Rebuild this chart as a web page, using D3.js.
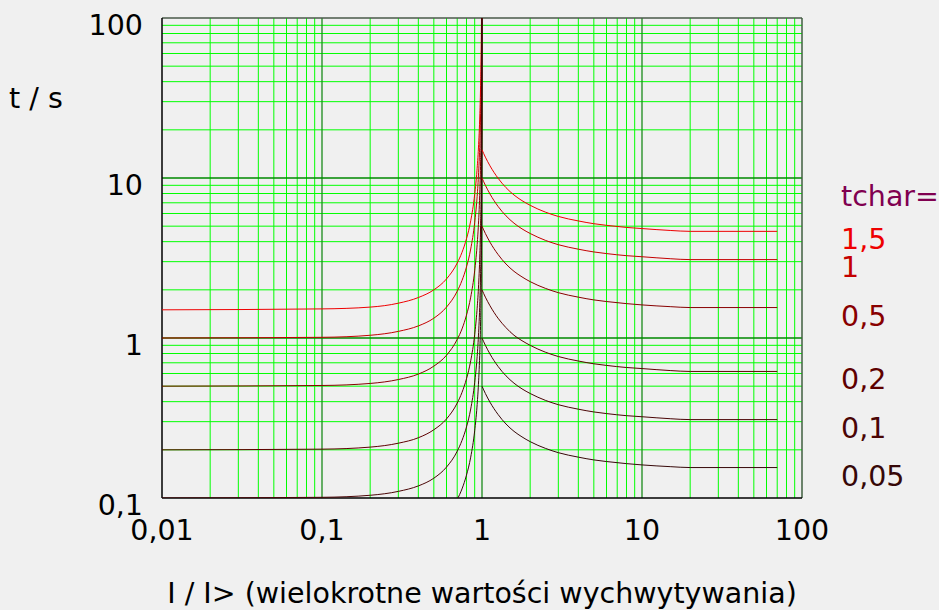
<!DOCTYPE html>
<html>
<head>
<meta charset="utf-8">
<script src="https://cdn.jsdelivr.net/npm/d3@7"></script>
<style>
    body { margin: 0; background: #f0f0f0; }
    text { font-family: "DejaVu Sans", sans-serif; }
</style>
</head>
<body>
<svg id="chart"></svg>
<script>
var width = 939,
    height = 610

var margin = {left: 162, top: 18, right: 137, bottom: 112}
var fontSize = 28.5

// tick labels
var xTicks = [0.01, 0.1, 1, 10, 100]
var xTickLabels = ["0,01", "0,1", "1", "10", "100"]
var yTicks = [0.1, 1, 10, 100]
var yTickLabels = ["0,1", "1", "10", "100"]

// multiples of pickup current
var currentLeft = [0.01, 0.1, 0.2, 0.3, 0.4, 0.5, 0.6, 0.7, 0.75, 0.8, 0.85, 0.9, 0.93, 0.95, 0.97, 0.98, 0.99, 0.995, 0.998, 0.9995, 0.9999]
var currentRight = [1, 1.05, 1.122, 1.259, 1.413, 1.585, 1.778, 2, 2.5, 3, 4, 5, 6, 8, 10, 15, 20, 70]

var tchar = ["1,5", "1", "0,5", "0,2", "0,1", "0,05"]
var colors = ["#ee0000", "#c40000", "#880000", "#5e0000", "#4a0505", "#360808"]

// times (s) below pickup
var left15 = [1.5, 1.52, 1.56, 1.65, 1.79, 2.0, 2.34, 2.94, 3.43, 4.17, 5.4, 7.89, 11.1, 15.4, 25.4, 37.9, 75.4, 150, 375, 1500, 7500]
var left1 = [1.0, 1.01, 1.04, 1.10, 1.19, 1.33, 1.56, 1.96, 2.29, 2.78, 3.60, 5.26, 7.40, 10.3, 16.9, 25.3, 50.3, 100, 250, 1000, 5000]
var left05 = [0.5, 0.505, 0.52, 0.55, 0.595, 0.667, 0.78, 0.98, 1.14, 1.39, 1.80, 2.63, 3.70, 5.13, 8.45, 12.6, 25.1, 50, 125, 500, 2500]
var left02 = [0.2, 0.202, 0.208, 0.22, 0.238, 0.267, 0.312, 0.392, 0.457, 0.556, 0.72, 1.05, 1.48, 2.05, 3.38, 5.05, 10.05, 20, 50, 200, 1000]
var left01 = [0.1, 0.101, 0.104, 0.11, 0.119, 0.133, 0.156, 0.196, 0.229, 0.278, 0.36, 0.526, 0.74, 1.03, 1.69, 2.53, 5.03, 10, 25, 100, 500]
var left005 = [0.05, 0.0505, 0.052, 0.055, 0.0595, 0.0667, 0.078, 0.098, 0.114, 0.139, 0.18, 0.263, 0.37, 0.513, 0.845, 1.26, 2.51, 5, 12.5, 50, 250]

// times (s) above pickup
var right15 = [15, 13.5, 11.91, 9.98, 8.7, 7.83, 7.22, 6.75, 6.11, 5.75, 5.39, 5.18, 5.06, 4.91, 4.83, 4.7, 4.64, 4.64]
var right1 = [10, 9.0, 7.94, 6.65, 5.80, 5.22, 4.81, 4.50, 4.07, 3.83, 3.59, 3.45, 3.37, 3.27, 3.22, 3.13, 3.09, 3.09]
var right05 = [5, 4.5, 3.97, 3.33, 2.9, 2.61, 2.41, 2.25, 2.04, 1.92, 1.8, 1.73, 1.69, 1.64, 1.61, 1.57, 1.55, 1.55]
var right02 = [2, 1.8, 1.59, 1.33, 1.16, 1.04, 0.962, 0.9, 0.814, 0.766, 0.718, 0.69, 0.674, 0.654, 0.644, 0.626, 0.618, 0.618]
var right01 = [1, 0.9, 0.794, 0.665, 0.58, 0.522, 0.481, 0.45, 0.407, 0.383, 0.359, 0.345, 0.337, 0.327, 0.322, 0.313, 0.309, 0.309]
var right005 = [0.5, 0.45, 0.397, 0.333, 0.29, 0.261, 0.241, 0.225, 0.204, 0.192, 0.18, 0.173, 0.169, 0.164, 0.161, 0.157, 0.155, 0.155]

var leftSeries = [left15, left1, left05, left02, left01, left005]
var rightSeries = [right15, right1, right05, right02, right01, right005]

var labelY = [249, 277, 326, 389, 438, 486]

var x = d3.scaleLog()
    .domain([0.01, 100])
    .range([margin.left, width - margin.right])

var y = d3.scaleLog()
    .domain([0.1, 100])
    .range([height - margin.bottom, margin.top])

var svg = d3.select("svg#chart")
    .attr("width", width)
    .attr("height", height)

svg.append("rect")
    .attr("width", width)
    .attr("height", height)
    .attr("fill", "#f0f0f0")

svg.append("clipPath")
    .attr("id", "plot-clip")
    .append("rect")
    .attr("x", margin.left)
    .attr("y", margin.top)
    .attr("width", width - margin.left - margin.right)
    .attr("height", height - margin.top - margin.bottom)

// grid
var xMinor = x.ticks().filter(function(d){ return xTicks.indexOf(d) < 0 })
var yMinor = y.ticks().filter(function(d){ return yTicks.indexOf(d) < 0 })

var grid = svg.append("g").attr("class", "grid")

grid.selectAll("line.xminor")
    .data(xMinor)
    .enter().append("line")
    .attr("class", "xminor")
    .attr("x1", function(d){ return x(d) })
    .attr("x2", function(d){ return x(d) })
    .attr("y1", y(0.1))
    .attr("y2", y(100))
    .attr("stroke", "#00ff00")

grid.selectAll("line.yminor")
    .data(yMinor)
    .enter().append("line")
    .attr("class", "yminor")
    .attr("y1", function(d){ return y(d) })
    .attr("y2", function(d){ return y(d) })
    .attr("x1", x(0.01))
    .attr("x2", x(100))
    .attr("stroke", "#00ff00")

grid.selectAll("line.xmajor")
    .data(xTicks.slice(1, -1))
    .enter().append("line")
    .attr("class", "xmajor")
    .attr("x1", function(d){ return x(d) })
    .attr("x2", function(d){ return x(d) })
    .attr("y1", y(0.1))
    .attr("y2", y(100))
    .attr("stroke", "#1a8a1a")
    .attr("stroke-width", 1.3)

grid.selectAll("line.ymajor")
    .data(yTicks.slice(1, -1))
    .enter().append("line")
    .attr("class", "ymajor")
    .attr("y1", function(d){ return y(d) })
    .attr("y2", function(d){ return y(d) })
    .attr("x1", x(0.01))
    .attr("x2", x(100))
    .attr("stroke", "#008800")
    .attr("stroke-width", 1.3)

// frame
svg.append("line")
    .attr("x1", x(0.01)).attr("x2", x(100))
    .attr("y1", y(100)).attr("y2", y(100))
    .attr("stroke", "#4a5a4a").attr("stroke-width", 1.5)
svg.append("line")
    .attr("x1", x(100)).attr("x2", x(100))
    .attr("y1", y(0.1)).attr("y2", y(100))
    .attr("stroke", "#3f5f3f").attr("stroke-width", 1.5)
svg.append("line")
    .attr("x1", x(0.01)).attr("x2", x(0.01))
    .attr("y1", y(0.1)).attr("y2", y(100))
    .attr("stroke", "#000").attr("stroke-width", 1.5)
svg.append("line")
    .attr("x1", x(0.01)).attr("x2", x(100))
    .attr("y1", y(0.1)).attr("y2", y(0.1))
    .attr("stroke", "#000").attr("stroke-width", 1.5)

// curves
var line = d3.line()
    .x(function(d){ return x(d[0]) })
    .y(function(d){ return y(d[1]) })
    .curve(d3.curveMonotoneX)

var curves = svg.append("g").attr("clip-path", "url(#plot-clip)")

leftSeries.forEach(function(s, i){
    curves.append("path")
        .datum(d3.zip(currentLeft, s))
        .attr("d", line)
        .attr("fill", "none")
        .attr("stroke", colors[i])
        .attr("stroke-width", 1)
})

rightSeries.forEach(function(s, i){
    curves.append("path")
        .datum(d3.zip(currentRight, s))
        .attr("d", line)
        .attr("fill", "none")
        .attr("stroke", colors[i])
        .attr("stroke-width", 1)
})

// tick labels
svg.selectAll("text.xtick")
    .data(xTicks)
    .enter().append("text")
    .attr("class", "xtick")
    .attr("x", function(d){ return x(d) })
    .attr("y", y(0.1) + 42)
    .attr("text-anchor", "middle")
    .attr("font-size", fontSize)
    .text(function(d, i){ return xTickLabels[i] })

svg.selectAll("text.ytick")
    .data(yTicks)
    .enter().append("text")
    .attr("class", "ytick")
    .attr("x", 143)
    .attr("y", function(d){ return y(d) + 17 })
    .attr("text-anchor", "end")
    .attr("font-size", fontSize)
    .text(function(d, i){ return yTickLabels[i] })

svg.append("text")
    .attr("x", 9)
    .attr("y", 108)
    .attr("font-size", fontSize)
    .text("t / s")

svg.append("text")
    .attr("x", (x(0.01) + x(100)) / 2)
    .attr("y", 603)
    .attr("text-anchor", "middle")
    .attr("font-size", fontSize)
    .text("I / I> (wielokrotne wartości wychwytywania)")

// tchar labels
svg.append("text")
    .attr("x", 841)
    .attr("y", 206)
    .attr("font-size", fontSize)
    .attr("fill", "#800050")
    .text("tchar=")

svg.selectAll("text.tchar")
    .data(tchar)
    .enter().append("text")
    .attr("class", "tchar")
    .attr("x", 841)
    .attr("y", function(d, i){ return labelY[i] })
    .attr("font-size", fontSize)
    .attr("fill", function(d, i){ return colors[i] })
    .text(function(d){ return d })
</script>
</body>
</html>
